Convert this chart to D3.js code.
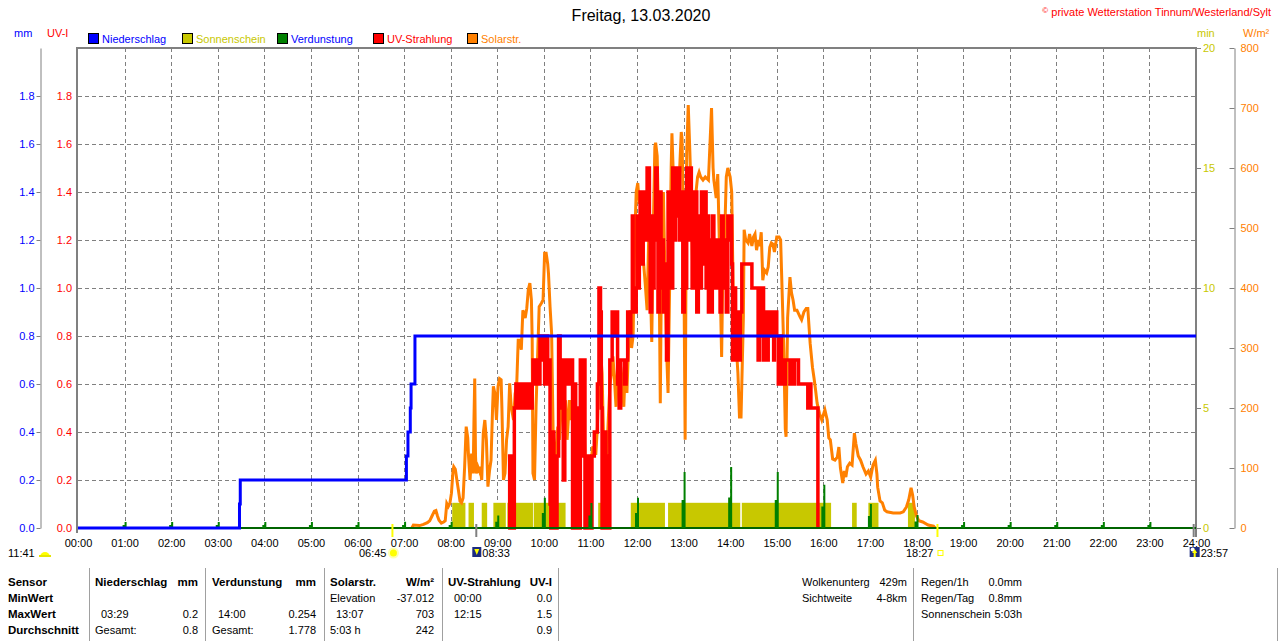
<!DOCTYPE html>
<html>
<head>
<meta charset="utf-8">
<script src="https://cdn.jsdelivr.net/npm/d3@7"></script>
<style>
  body { margin: 0; background: #fff; }
  svg text { font-family: "Liberation Sans", Arial, sans-serif; font-size: 11px; }
</style>
</head>
<body>
<svg id="chart" width="1280" height="641"></svg>
<script>
// ---- data ----
const titleText = "Freitag, 13.03.2020";
const stationText = "private Wetterstation Tinnum/Westerland/Sylt";

const hourLabels = ["00:00","01:00","02:00","03:00","04:00","05:00","06:00","07:00","08:00","09:00","10:00","11:00","12:00",
  "13:00","14:00","15:00","16:00","17:00","18:00","19:00","20:00","21:00","22:00","23:00","24:00"];
const mmTicks = [0, 0.2, 0.4, 0.6, 0.8, 1.0, 1.2, 1.4, 1.6, 1.8];
const minTicks = [0, 5, 10, 15, 20];
const wTicks = [0, 100, 200, 300, 400, 500, 600, 700, 800];

const legendNames = ["Niederschlag", "Sonnenschein", "Verdunstung", "UV-Strahlung", "Solarstr."];
const legendColors = ["#0000ff", "#c8c800", "#008000", "#ff0000", "#ff8000"];
const legendTextColors = ["#0000ff", "#c8c800", "#0000ff", "#ff0000", "#ff8000"];

// Niederschlag (cumulative mm)
const precipTimes = ["00:00","03:28","03:29","07:03","07:05","07:08","07:09","07:14","24:00"];
const precipValues = [0, 0.1, 0.2, 0.3, 0.4, 0.5, 0.6, 0.8, 0.8];

// Sonnenschein (min)
const sunStart = ["08:02","08:23","08:40","08:55","09:13","09:47","11:10","11:52","12:40","14:15","16:37","16:58","17:49"];
const sunEnd   = ["08:19","08:30","08:47","09:11","09:46","10:28","11:19","12:36","14:13","16:10","16:43","17:11","17:58"];
const sunValues = [1.05,1.05,1.05,1.05,1.05,1.05,1.05,1.05,1.05,1.05,1.05,1.05,1.05];

// Verdunstung (mm per hour)
const evapHours = ["01:00","02:00","03:00","04:00","05:00","06:00","07:00","08:00","09:00","10:00","11:00","12:00",
  "13:00","14:00","15:00","16:00","17:00","18:00","19:00","20:00","21:00","22:00","23:00"];
const evapValues = [0.025,0.025,0.025,0.025,0.025,0.025,0.026,0.026,0.052,0.126,0.104,0.126,
  0.233,0.254,0.233,0.18,0.10,0.054,0.025,0.025,0.025,0.025,0.025];

// UV-Strahlung (UV-I)
const uvTimes = ["09:14","09:16","09:18","09:22","09:24","09:27","09:29","09:31","09:33","09:35","09:37","09:39",
  "09:41","09:43","09:45","09:46","09:48","09:50","09:52","09:55","09:57","09:58","10:01","10:03","10:05","10:07",
  "10:08","10:09","10:11","10:13","10:17","10:19","10:21","10:23","10:25","10:27","10:29","10:31","10:34","10:37",
  "10:39","10:41","10:43","10:45","10:47","10:49","10:50","10:53","10:57","11:00","11:02","11:05","11:09","11:11",
  "11:13","11:14","11:15","11:18","11:20","11:22","11:25","11:28","11:30","11:32","11:35","11:37","11:39","11:42",
  "11:44","11:46","11:48","11:50","11:52","11:54","11:55","11:57","11:59","12:00","12:02","12:03","12:04","12:06",
  "12:08","12:09","12:11","12:13","12:16","12:17","12:19","12:20","12:22","12:24","12:26","12:27","12:29","12:31",
  "12:32","12:34","12:36","12:38","12:40","12:42","12:44","12:45","12:46","12:48","12:50","12:51","12:53","12:55",
  "12:57","12:59","13:01","13:03","13:04","13:06","13:08","13:10","13:11","13:13","13:15","13:16","13:17","13:19",
  "13:21","13:23","13:25","13:27","13:29","13:30","13:32","13:34","13:36","13:37","13:39","13:41","13:43","13:45",
  "13:47","13:49","13:51","13:53","13:55","13:57","13:59","14:01","14:02","14:03","14:05","14:07","14:09","14:11",
  "14:13","14:15","14:28","14:36","14:38","14:40","14:42","14:43","14:45","14:48","14:49","14:52","14:53","14:56",
  "14:57","15:00","15:02","15:04","15:06","15:08","15:10","15:11","15:17","15:18","15:22","15:23","15:28","15:40",
  "15:42","15:44","15:53"];
const uvValues = [0,0.3,0,0.5,0.6,0.5,0.6,0.5,0.6,0.5,0.6,0.5,
  0.6,0.5,0.6,0.7,0.6,0.7,0.6,0.8,0.7,0.8,0.6,0.8,0.6,0.7,
  0.1,0,0.4,0,0.3,0.8,0.5,0.7,0.2,0.6,0.7,0.6,0.7,0,
  0.6,0,0.5,0,0.7,0.3,0.7,0,0.3,0,0.3,0.4,0.6,1.0,
  0.9,0.5,0,0.4,0.3,0,0.7,0.9,0.8,0.9,0.6,0.5,0.7,0.7,
  0.6,0.7,0.9,0.8,0.9,1.3,1.0,0.9,1.0,1.3,1.0,1.2,1.4,1.1,
  1.3,1.4,1.2,1.5,1.2,0.9,1.3,1.0,1.2,1.5,1.3,0.9,1.4,1.0,
  1.2,0.9,1.1,0.7,1.4,1.0,1.3,1.0,1.5,1.2,1.5,1.3,1.5,1.2,
  1.4,0.9,1.4,1.0,1.5,1.2,1.5,1.3,1.0,1.4,1.1,1.4,0.9,1.3,
  1.0,1.4,1.1,1.4,1.0,1.3,0.9,1.2,0.9,1.3,1.0,1.2,1.0,1.2,
  0.9,1.3,1.0,1.2,0.9,1.3,1.2,1.3,1.1,0.7,1.0,0.7,0.9,0.7,
  0.9,1.1,1.0,0.7,1.0,0.8,1.0,0.7,0.9,0.7,0.9,0.8,0.9,0.7,
  0.9,0.8,0.6,0.8,0.6,0.7,0.6,0.7,0.6,0.7,0.6,0.7,0.6,0.5,
  0.6,0.5,0];

// Solarstrahlung (W/m²)
const solarTimes = ["07:10","07:12","07:20","07:25","07:30","07:33","07:36","07:39","07:41","07:43","07:45","07:48","07:51",
  "07:53","07:55","07:57","07:59","08:01","08:03","08:04","08:06","08:08","08:10","08:12","08:14","08:16","08:18",
  "08:20","08:22","08:23","08:25","08:27","08:29","08:30","08:31","08:32","08:33","08:35","08:37","08:38","08:40",
  "08:42","08:44","08:46","08:48","08:50","08:52","08:54","08:55","08:57","08:59","09:01","09:03","09:05","09:06",
  "09:08","09:10","09:12","09:14","09:16","09:18","09:21","09:23","09:25","09:27","09:29","09:31","09:33","09:36",
  "09:38","09:40","09:42","09:44","09:45","09:46","09:48","09:50","09:52","09:54","09:57","09:59","10:01","10:03",
  "10:05","10:06","10:08","10:10","10:12","10:14","10:16","10:18","10:20","10:22","10:24","10:26","10:28","10:30",
  "10:33","10:35","10:37","10:39","10:41","10:43","10:45","10:47","10:49","10:51","10:53","10:56","10:59","11:01",
  "11:03","11:05","11:07","11:09","11:11","11:13","11:15","11:17","11:19","11:21","11:23","11:25","11:27","11:29",
  "11:31","11:33","11:35","11:37","11:39","11:41","11:43","11:45","11:47","11:49","11:51","11:53","11:55","11:57",
  "11:59","12:01","12:03","12:05","12:08","12:11","12:13","12:15","12:17","12:19","12:21","12:23","12:24","12:26",
  "12:28","12:30","12:32","12:34","12:36","12:38","12:40","12:42","12:44","12:45","12:47","12:49","12:51","12:53",
  "12:55","12:57","12:58","13:00","13:02","13:03","13:04","13:06","13:08","13:10","13:12","13:14","13:16","13:18",
  "13:20","13:22","13:25","13:28","13:32","13:34","13:36","13:38","13:39","13:41","13:42","13:44","13:46","13:49",
  "13:50","13:51","13:53","13:55","13:57","14:00","14:02","14:04","14:06","14:08","14:10","14:12","14:14","14:17",
  "14:18","14:20","14:23","14:25","14:28","14:30","14:32","14:34","14:36","14:38","14:40","14:42","14:44","14:47",
  "14:49","14:51","14:53","14:55","14:57","15:00","15:03","15:05","15:07","15:09","15:11","15:12","15:14","15:17",
  "15:19","15:21","15:23","15:26","15:30","15:32","15:35","15:38","15:40","15:43","15:46","15:48","15:50","15:52",
  "15:55","15:58","16:02","16:05","16:07","16:09","16:12","16:15","16:18","16:20","16:22","16:25","16:27","16:29",
  "16:31","16:34","16:37","16:40","16:42","16:45","16:48","16:51","16:55","16:58","17:01","17:04","17:07","17:09",
  "17:10","17:13","17:16","17:19","17:22","17:30","17:39","17:43","17:47","17:50","17:53","17:55","17:57","18:00",
  "18:03","18:08","18:15","18:22","18:24"];
const solarValues = [0,5,4,6,9,12,20,28,29,20,13,8,10,
  12,41,36,41,58,95,102,98,80,63,45,42,50,102,
  169,150,120,80,124,91,180,249,120,91,102,95,102,80,
  158,180,147,69,95,113,200,236,224,180,236,249,247,200,
  80,91,147,169,241,202,180,224,236,313,313,297,363,350,
  366,397,408,380,313,91,80,202,286,369,375,380,458,458,
  440,424,369,325,158,124,124,169,147,191,213,202,213,147,
  213,180,202,113,113,152,147,191,236,224,119,119,119,113,
  136,124,124,169,247,297,258,147,113,119,180,236,258,286,
  247,202,269,247,269,247,202,269,225,300,363,300,320,480,
  560,575,540,560,450,400,363,480,420,310,500,635,642,620,
  500,208,510,560,420,300,225,400,600,658,580,500,600,520,
  600,660,650,500,147,400,625,705,630,547,408,500,560,585,
  593,585,580,585,580,640,700,600,580,560,550,590,480,285,
  380,435,490,585,600,585,560,380,325,300,258,185,185,350,
  497,480,475,490,470,485,490,463,480,470,493,413,430,425,
  435,468,475,473,460,485,485,480,391,300,165,152,350,418,
  392,380,363,363,352,347,360,366,366,308,268,250,230,208,
  191,180,197,180,150,147,115,113,118,135,100,75,95,85,
  102,108,105,158,140,120,113,102,90,95,85,105,113,90,
  68,45,42,30,27,25,25,27,35,47,67,55,35,20,
  12,10,5,3,0];

// Sonne / Mond
const dayLength = "11:41";
const sunrise = "06:45", sunset = "18:27", moonrise = "08:33", moonset = "23:57";

// Tabelle
const sensorLabels = ["Sensor", "MinWert", "MaxWert", "Durchschnitt"];
const statHeaders = [["Niederschlag","mm"], ["Verdunstung","mm"], ["Solarstr.","W/m²"], ["UV-Strahlung","UV-I"]];
const statMin = [["",""], ["",""], ["Elevation","-37.012"], ["00:00","0.0"]];
const statMax = [["03:29","0.2"], ["14:00","0.254"], ["13:07","703"], ["12:15","1.5"]];
const statAvg = [["Gesamt:","0.8"], ["Gesamt:","1.778"], ["5:03 h","242"], ["","0.9"]];
const extraLeft = [["Wolkenunterg","429m"], ["Sichtweite","4-8km"]];
const extraRight = [["Regen/1h","0.0mm"], ["Regen/Tag","0.8mm"], ["Sonnenschein","5:03h"]];

// ---- layout ----
const plotL = 78, plotR = 1196, plotT = 48, plotB = 528;
const GRAY = "#808080";
const svg = d3.select("#chart");
const toMin = s => { const p = s.split(":"); return +p[0] * 60 + +p[1]; };

const x = d3.scaleLinear().domain([0, 1440]).range([plotL, plotR]);
const yMm = d3.scaleLinear().domain([0, 2]).range([plotB, plotT]);
const yMin = d3.scaleLinear().domain([0, 20]).range([plotB, plotT]);
const yW = d3.scaleLinear().domain([0, 800]).range([plotB, plotT]);

// title + station
svg.append("text").attr("x", 641).attr("y", 21).attr("text-anchor", "middle")
  .style("font-size", "16px").text(titleText);
const st = svg.append("text").attr("x", 1271).attr("y", 16).attr("text-anchor", "end").attr("fill", "#ff0000");
st.append("tspan").style("font-size", "8px").attr("dy", -3).text("©");
st.append("tspan").attr("dy", 3).text(" " + stationText);

// unit labels
svg.append("text").attr("x", 14).attr("y", 37).attr("fill", "#0000ff").text("mm");
svg.append("text").attr("x", 47).attr("y", 37).attr("fill", "#ff0000").text("UV-I");
svg.append("text").attr("x", 1197).attr("y", 37).attr("fill", "#c8c800").text("min");
svg.append("text").attr("x", 1243).attr("y", 37).attr("fill", "#ff8000").text("W/m²");

// legend
const legendX = [88, 182, 277, 373, 467];
legendNames.forEach((name, i) => {
  svg.append("rect").attr("x", legendX[i] + 0.5).attr("y", 33.5).attr("width", 10).attr("height", 10)
    .attr("fill", legendColors[i]).attr("stroke", "#000");
  svg.append("text").attr("x", legendX[i] + 14).attr("y", 42.5).attr("fill", legendTextColors[i]).text(name);
});

// grid
const grid = svg.append("g").attr("stroke", GRAY).attr("stroke-dasharray", "4,3").attr("stroke-width", 1);
mmTicks.slice(1).forEach(v => {
  grid.append("line").attr("x1", plotL).attr("x2", plotR)
    .attr("y1", Math.round(yMm(v)) + 0.5).attr("y2", Math.round(yMm(v)) + 0.5);
});
hourLabels.slice(1, -1).forEach(h => {
  const xx = Math.round(x(toMin(h))) + 0.5;
  grid.append("line").attr("x1", xx).attr("x2", xx).attr("y1", plotT).attr("y2", plotB);
});

// axes
function styleAxis(g, color) {
  g.attr("font-size", 11).attr("font-family", "'Liberation Sans', Arial, sans-serif");
  g.selectAll("text").attr("fill", color);
  g.selectAll("line").attr("stroke", GRAY);
  g.selectAll("path").attr("stroke", GRAY);
}
const axMm = svg.append("g").attr("transform", "translate(40.5,0)")
  .call(d3.axisLeft(yMm).tickValues(mmTicks).tickFormat(d3.format(".1f")).tickSize(4).tickPadding(2).tickSizeOuter(0));
styleAxis(axMm, "#0000ff");

const axUv = svg.append("g").attr("transform", "translate(77,0)")
  .call(d3.axisLeft(yMm).tickValues(mmTicks).tickFormat(d3.format(".1f")).tickSize(0).tickPadding(5));
axUv.select(".domain").remove();
styleAxis(axUv, "#ff0000");

const axMin = svg.append("g").attr("transform", `translate(${plotR},0)`)
  .call(d3.axisRight(yMin).tickValues(minTicks).tickSize(5).tickPadding(2));
axMin.select(".domain").remove();
styleAxis(axMin, "#c8c800");

const axW = svg.append("g").attr("transform", "translate(1234.5,0)")
  .call(d3.axisRight(yW).tickValues(wTicks).tickSize(-5).tickPadding(6).tickSizeOuter(0));
styleAxis(axW, "#ff8000");

const axX = svg.append("g").attr("transform", `translate(0,${plotB})`)
  .call(d3.axisBottom(x).tickValues(hourLabels.map(toMin)).tickFormat((d, i) => hourLabels[i]).tickSize(0).tickPadding(11));
axX.select(".domain").remove();
styleAxis(axX, "#000");

// frame
const frame = svg.append("g").attr("stroke", GRAY).attr("stroke-width", 2).attr("fill", "none");
frame.append("line").attr("x1", 77).attr("x2", 77).attr("y1", plotT - 1).attr("y2", 533);
frame.append("line").attr("x1", 76).attr("x2", plotR + 1).attr("y1", plotT).attr("y2", plotT);
frame.append("line").attr("x1", plotR).attr("x2", plotR).attr("y1", plotT - 1).attr("y2", 537);
frame.append("line").attr("x1", 77).attr("x2", plotR).attr("y1", plotB + 0.5).attr("y2", plotB + 0.5).attr("stroke-width", 1);

// Sonnenschein bars
svg.append("g").selectAll("rect").data(sunStart).join("rect")
  .attr("x", (d) => x(toMin(d)))
  .attr("width", (d, i) => x(toMin(sunEnd[i])) - x(toMin(d)))
  .attr("y", (d, i) => yMin(sunValues[i]))
  .attr("height", (d, i) => plotB - yMin(sunValues[i]))
  .attr("fill", "#c8c800");

// Solarstrahlung
const solarData = solarTimes.map((t, i) => [toMin(t), solarValues[i]]);
svg.append("path").datum(solarData)
  .attr("fill", "none").attr("stroke", "#ff8000").attr("stroke-width", 3).attr("stroke-linejoin", "miter")
  .attr("d", d3.line().x(d => x(d[0])).y(d => yW(d[1])));

// UV-Strahlung
const uvData = uvTimes.map((t, i) => [toMin(t), uvValues[i]]);
svg.append("path").datum(uvData)
  .attr("fill", "none").attr("stroke", "#ff0000").attr("stroke-width", 3.5)
  .attr("d", d3.line().x(d => x(d[0])).y(d => yMm(d[1])).curve(d3.curveStepAfter));

// Verdunstung baseline + hourly bars
svg.append("line").attr("x1", plotL).attr("x2", plotR).attr("y1", plotB).attr("y2", plotB)
  .attr("stroke", "#006400").attr("stroke-width", 2);
svg.append("g").selectAll("path").data(evapHours).join("path")
  .attr("fill", "#008000")
  .attr("d", (h, i) => {
    const ex = x(toMin(h)), v = evapValues[i];
    return `M${ex - 2},${plotB}V${yMm(v / 2)}H${ex}V${yMm(v)}H${ex + 2}V${plotB}Z`;
  });

// Niederschlag
const precipData = precipTimes.map((t, i) => [toMin(t), precipValues[i]]);
svg.append("path").datum(precipData)
  .attr("fill", "none").attr("stroke", "#0000ff").attr("stroke-width", 3)
  .attr("d", d3.line().x(d => x(d[0])).y(d => yMm(d[1])).curve(d3.curveStepAfter));

// sun / moon markers under the axis
[[sunrise, "#ffff00"], [sunset, "#ffff00"], [moonrise, GRAY], [moonset, GRAY]].forEach(([t, c]) => {
  svg.append("line").attr("x1", x(toMin(t))).attr("x2", x(toMin(t))).attr("y1", 524).attr("y2", 537)
    .attr("stroke", c).attr("stroke-width", 2);
});

// day length with cloud-sun icon
svg.append("text").attr("x", 8).attr("y", 557).text(dayLength);
svg.append("path").attr("d", "M40,557 a5,5 0 0 1 10,0 Z").attr("fill", "#ffff00");
svg.append("rect").attr("x", 39).attr("y", 555).attr("width", 12).attr("height", 2).attr("fill", "#e6e600");

// sunrise
const srx = x(toMin(sunrise));
svg.append("text").attr("x", srx - 6).attr("y", 557).attr("text-anchor", "end").text(sunrise);
svg.append("circle").attr("cx", srx + 1).attr("cy", 553).attr("r", 5.5).attr("fill", "#ffffb0");
svg.append("circle").attr("cx", srx + 1).attr("cy", 553).attr("r", 3.5).attr("fill", "#ffff00");

// moonrise
const mrx = x(toMin(moonrise));
svg.append("rect").attr("x", mrx - 4).attr("y", 547).attr("width", 9).attr("height", 10).attr("fill", "#1c2c80");
svg.append("path").attr("d", `M${mrx - 2},549 h5 l-2.5,6 Z`).attr("fill", "#ffff00");
svg.append("text").attr("x", mrx + 6).attr("y", 557).text(moonrise);

// sunset
const ssx = x(toMin(sunset));
svg.append("text").attr("x", ssx - 4).attr("y", 557).attr("text-anchor", "end").text(sunset);
svg.append("rect").attr("x", ssx + 0.5).attr("y", 550.5).attr("width", 5).attr("height", 5)
  .attr("fill", "none").attr("stroke", "#ffff00");

// moonset
const msx = x(toMin(moonset));
svg.append("rect").attr("x", msx - 4).attr("y", 547).attr("width", 10).attr("height", 10).attr("fill", "#1c2c80");
svg.append("circle").attr("cx", msx - 1).attr("cy", 549.5).attr("r", 2).attr("fill", "#fff");
svg.append("path").attr("d", `M${msx + 1},549 l2.5,4 h-1.5 v4 h-2 v-4 h-1.5 Z`).attr("fill", "#ffff00");
svg.append("text").attr("x", msx + 7).attr("y", 557).text(moonset);

// ---- table ----
const rowY = [586, 602, 618, 634];
const sepX = [89, 205, 324, 442, 558, 913, 1277];
sepX.forEach(sx => svg.append("line").attr("x1", sx + 0.5).attr("x2", sx + 0.5).attr("y1", 568).attr("y2", 641)
  .attr("stroke", "#a0a0a0"));

sensorLabels.forEach((s, i) => svg.append("text").attr("x", 8).attr("y", rowY[i])
  .attr("font-weight", "bold").style("font-size", "11.5px").text(s));

const blockX = [[95, 198], [212, 316], [330, 434], [448, 552]];
const isTime = s => /^\d\d:\d\d$/.test(s);
statHeaders.forEach((hd, b) => {
  const [lx, rx] = blockX[b];
  svg.append("text").attr("x", lx).attr("y", rowY[0]).attr("font-weight", "bold").style("font-size", "11.5px").text(hd[0]);
  svg.append("text").attr("x", rx).attr("y", rowY[0]).attr("font-weight", "bold").style("font-size", "11.5px")
    .attr("text-anchor", "end").text(hd[1]);
  [statMin[b], statMax[b], statAvg[b]].forEach((row, r) => {
    svg.append("text").attr("x", lx + (isTime(row[0]) ? 6 : 0)).attr("y", rowY[r + 1]).text(row[0]);
    svg.append("text").attr("x", rx).attr("y", rowY[r + 1]).attr("text-anchor", "end").text(row[1]);
  });
});

extraLeft.forEach((row, r) => {
  svg.append("text").attr("x", 802).attr("y", rowY[r]).text(row[0]);
  svg.append("text").attr("x", 907).attr("y", rowY[r]).attr("text-anchor", "end").text(row[1]);
});
extraRight.forEach((row, r) => {
  svg.append("text").attr("x", 921).attr("y", rowY[r]).text(row[0]);
  svg.append("text").attr("x", 1022).attr("y", rowY[r]).attr("text-anchor", "end").text(row[1]);
});
</script>
</body>
</html>
